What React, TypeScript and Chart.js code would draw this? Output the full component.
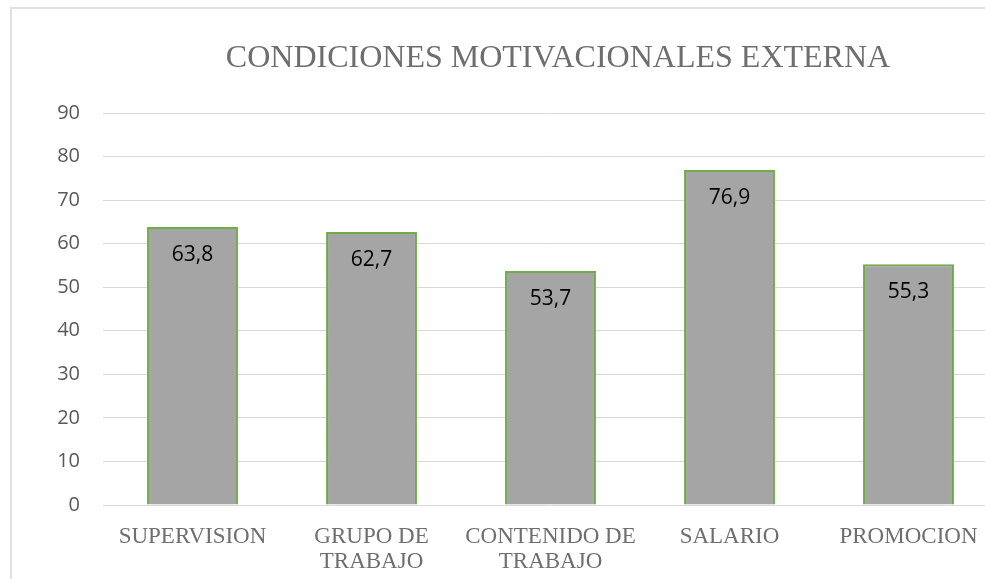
import React, { useEffect, useRef } from "react";
import { Chart, registerables } from "chart.js";

Chart.register(...registerables);

const TITLE = "CONDICIONES MOTIVACIONALES EXTERNA";
const categories: (string | string[])[] = [
  "SUPERVISION",
  ["GRUPO DE", "TRABAJO"],
  ["CONTENIDO DE", "TRABAJO"],
  "SALARIO",
  "PROMOCION",
];
const values: number[] = [63.8, 62.7, 53.7, 76.9, 55.3];
const yMin = 0;
const yMax = 90;
const yStep = 10;

const dataLabelPlugin = {
  id: "dataLabelsInside",
  afterDatasetsDraw(chart: any) {
    const ctx = chart.ctx;
    const meta = chart.getDatasetMeta(0);
    ctx.save();
    ctx.font = '21px "Open Sans"';
    ctx.fillStyle = "#000000";
    ctx.textAlign = "center";
    ctx.textBaseline = "middle";
    meta.data.forEach((bar: any, i: number) => {
      const txt = values[i].toFixed(1).replace(".", ",");
      ctx.fillText(txt, bar.x, bar.y + 28);
    });
    ctx.restore();
  },
};

const titlePlugin = {
  id: "offsetTitle",
  afterDraw(chart: any) {
    const ctx = chart.ctx;
    ctx.save();
    ctx.font = '32px "Liberation Serif", "Times New Roman", serif';
    ctx.fillStyle = "#6e6e6e";
    ctx.textAlign = "center";
    ctx.textBaseline = "middle";
    ctx.fillText(TITLE, 558, 59);
    ctx.restore();
  },
};

export default function App() {
  const ref = useRef<HTMLCanvasElement | null>(null);
  useEffect(() => {
    if (!ref.current) return;
    const chart = new Chart(ref.current, {
      type: "bar",
      data: {
        labels: categories,
        datasets: [
          {
            data: values,
            backgroundColor: "#A5A5A5",
            borderColor: "#70AD47",
            borderWidth: 2,
            barPercentage: 1,
            categoryPercentage: 0.508,
          },
        ],
      },
      options: {
        responsive: false,
        animation: false,
        devicePixelRatio: 1,
        layout: { padding: { left: 0, right: 118, top: 113, bottom: 0 } },
        plugins: {
          legend: { display: false },
          tooltip: { enabled: false },
          title: { display: false },
        },
        scales: {
          x: {
            grid: { display: false },
            border: { display: false },
            ticks: {
              color: "#6e6e6e",
              font: { family: '"Liberation Serif", "Times New Roman", serif', size: 23, lineHeight: 1.1 },
              padding: 11,
              maxRotation: 0,
              autoSkip: false,
            },
            afterFit: (scale: any) => {
              scale.height = 74;
            },
          },
          y: {
            min: yMin,
            max: yMax,
            grid: { color: "#d9d9d9", lineWidth: 1, drawTicks: false },
            border: { display: false },
            ticks: {
              stepSize: yStep,
              color: "#595959",
              font: { family: '"Open Sans", sans-serif', size: 20 },
              padding: 23,
            },
            afterFit: (scale: any) => {
              scale.width = 103;
            },
          },
        },
      },
      plugins: [dataLabelPlugin, titlePlugin],
    });
    return () => chart.destroy();
  }, []);

  return (
    <div
      style={{
        position: "fixed",
        left: 0,
        top: 0,
        width: 985,
        height: 579,
        overflow: "hidden",
        background: "#ffffff",
      }}
    >
      <div
        style={{
          position: "absolute",
          left: 10,
          top: 7,
          width: 2000,
          height: 2000,
          borderLeft: "2px solid #e0e0e0",
          borderTop: "2px solid #e0e0e0",
        }}
      />
      <canvas
        ref={ref}
        width={1116}
        height={579}
        style={{ position: "absolute", left: 0, top: 0, width: 1116, height: 579 }}
      />
    </div>
  );
}
